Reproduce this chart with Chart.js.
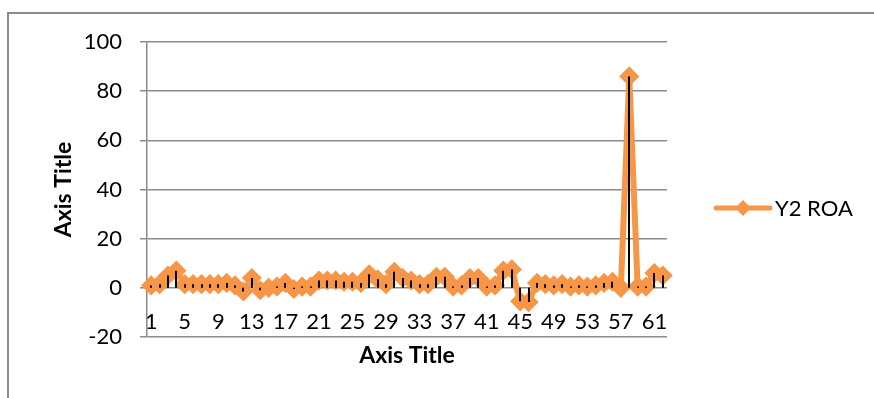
<!DOCTYPE html>
<html>
<head>
<meta charset="utf-8">
<script src="https://cdn.jsdelivr.net/npm/chart.js@4.4.0/dist/chart.umd.min.js"></script>
<style>
  html, body { margin: 0; padding: 0; background: #fff; overflow: hidden; }
  #wrap { position: relative; width: 874px; height: 398px; }
  #frame {
    position: absolute; left: 7px; top: 12px; width: 900px; height: 420px;
    border: 2px solid #8a8a8a; box-sizing: border-box;
  }
  canvas { position: absolute; left: 0; top: 0; }
</style>
</head>
<body>
<div id="wrap">
  <div id="frame"></div>
  <canvas id="linechart" width="874" height="398"></canvas>
</div>
<script>
const categories = Array.from({ length: 62 }, (_, i) => i + 1);

const roa = [
  1, 1.5, 5, 7, 1.5, 1.5, 1.5, 1.5, 1.5, 2,
  1, -1.5, 4, -1, 0, 0.5, 2, -0.5, 0.5, 0.5,
  3, 3, 3, 2.5, 2.5, 2, 5.5, 3.5, 1.5, 6.5,
  4, 3, 1.5, 1.5, 4.5, 4.5, 0.5, 1, 4, 4,
  0.5, 1, 7, 7.5, -5.5, -5.8, 2, 1.5, 1, 1.5,
  0.5, 1, 0.5, 1, 2, 2.5, 0, 86, 0.5, 0.5,
  6, 5,
];

const yTicks = [-20, 0, 20, 40, 60, 80, 100];

const orange = "#f79646";
const gridGray = "#8a8a8a";
const fontFamily = "Lato, 'Open Sans', sans-serif";

// black drop lines from every point down (or up) to zero
const dropLines = {
  id: "dropLines",
  afterDatasetsDraw(chart) {
    const meta = chart.getDatasetMeta(0);
    const y0 = chart.scales.y.getPixelForValue(0);
    const ctx = chart.ctx;
    ctx.save();
    ctx.strokeStyle = "#000";
    ctx.lineWidth = 2;
    meta.data.forEach((pt) => {
      ctx.beginPath();
      ctx.moveTo(Math.round(pt.x), y0);
      ctx.lineTo(Math.round(pt.x), pt.y);
      ctx.stroke();
    });
    ctx.restore();
  },
};

// line + diamond legend entry on the right
const sideLegend = {
  id: "sideLegend",
  afterDraw(chart) {
    const ctx = chart.ctx;
    const x = chart.chartArea.right + 49;
    const y = 208;
    ctx.save();
    ctx.strokeStyle = orange;
    ctx.lineWidth = 5;
    ctx.lineCap = "round";
    ctx.beginPath();
    ctx.moveTo(x, y);
    ctx.lineTo(x + 54, y);
    ctx.stroke();
    ctx.fillStyle = orange;
    ctx.beginPath();
    ctx.moveTo(x + 27 - 8, y);
    ctx.lineTo(x + 27, y - 8);
    ctx.lineTo(x + 27 + 8, y);
    ctx.lineTo(x + 27, y + 8);
    ctx.closePath();
    ctx.fill();
    ctx.fillStyle = "#000";
    ctx.font = "22px " + fontFamily;
    ctx.textBaseline = "middle";
    ctx.fillText(chart.data.datasets[0].label, x + 59, y + 1);
    ctx.restore();
  },
};

const lctx = document.getElementById("linechart");

new Chart(lctx, {
  type: "line",
  data: {
    labels: categories,
    datasets: [
      {
        label: "Y2 ROA",
        data: roa,
        borderColor: orange,
        backgroundColor: orange,
        borderWidth: 6,
        tension: 0,
        pointStyle: "rectRot",
        pointRadius: 9,
        pointHoverRadius: 9,
        pointBorderWidth: 1.5,
        pointBackgroundColor: orange,
        pointBorderColor: orange,
      },
    ],
  },
  options: {
    responsive: false,
    animation: false,
    layout: {
      padding: { left: 50, top: 42, right: 207, bottom: 29 },
    },
    plugins: {
      legend: { display: false },
      tooltip: { enabled: false },
    },
    scales: {
      x: {
        offset: true,
        grid: { display: false },
        border: { display: false },
        ticks: {
          autoSkip: false,
          maxRotation: 0,
          mirror: true, // labels sit just above the -20 line
          padding: 2,
          color: "#000",
          font: { family: fontFamily, size: 22 },
          callback: (v, i) => (i % 4 === 0 ? categories[i] : ""),
        },
        title: {
          display: true,
          text: "Axis Title",
          color: "#000",
          padding: 0,
          font: { family: fontFamily, size: 23, weight: "bold" },
        },
        afterFit: (scale) => {
          scale.height = 32;
        },
      },
      y: {
        min: yTicks[0],
        max: yTicks[yTicks.length - 1],
        afterBuildTicks: (scale) => {
          scale.ticks = yTicks.map((v) => ({ value: v }));
        },
        grid: {
          color: gridGray,
          lineWidth: 1.5,
          drawTicks: true,
          tickLength: 7,
        },
        border: { display: true, color: gridGray, width: 1.5 },
        ticks: {
          padding: 18,
          color: "#000",
          font: { family: fontFamily, size: 22 },
        },
        title: {
          display: true,
          text: "Axis Title",
          color: "#000",
          padding: 0,
          font: { family: fontFamily, size: 23, weight: "bold" },
        },
        afterFit: (scale) => {
          scale.width = 97;
        },
      },
    },
  },
  plugins: [dropLines, sideLegend],
});
</script>
</body>
</html>
